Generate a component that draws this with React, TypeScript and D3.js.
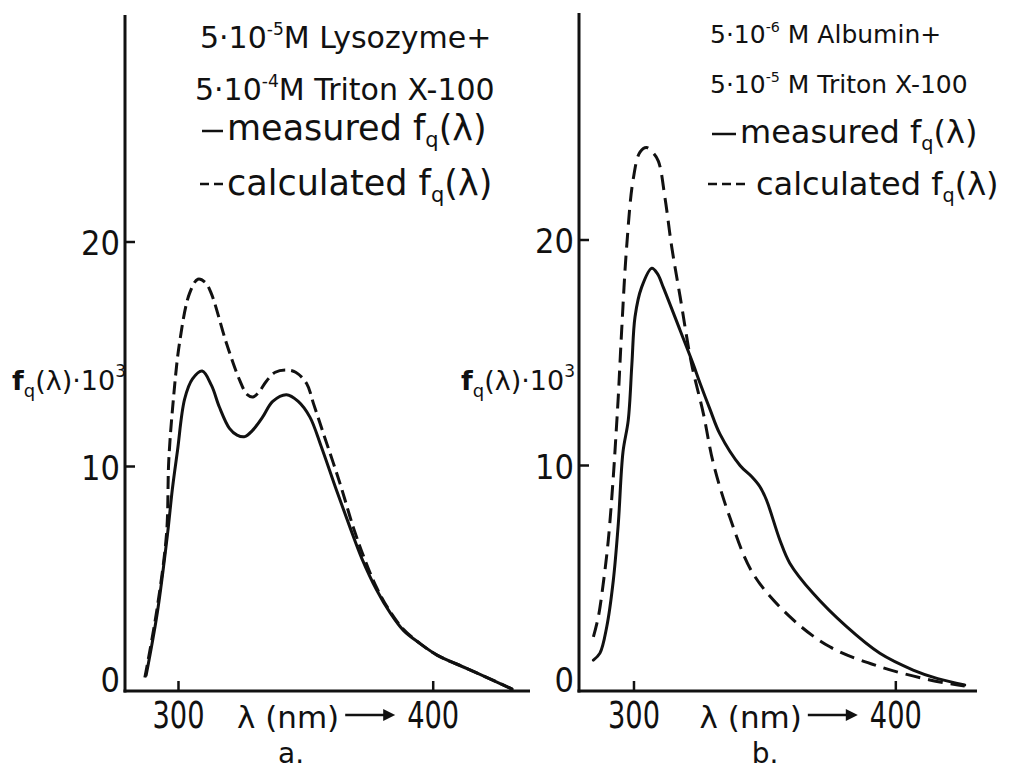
import React from 'react';
import * as d3 from 'd3';

const xTicks = [300, 400];
const yTicks = [0, 10, 20];

// [lambda (nm), fq * 10^3]
const lysozymeMeasured = [
  [287.3, 0.7], [291.7, 3.5], [295.7, 7.0], [297.6, 9.0], [299.6, 10.7], [302.4, 13.0],
  [305.5, 13.9], [309.3, 14.25], [313, 13.6], [316, 12.66], [320, 11.7], [323, 11.4],
  [326, 11.33], [329, 11.6], [333, 12.2], [337, 12.9], [342.4, 13.2], [347, 12.9],
  [351.6, 12.2], [356, 10.9], [362, 8.95], [367.3, 7.3], [372, 5.9], [377.8, 4.5],
  [383, 3.5], [388.3, 2.7], [395, 2.1], [401.5, 1.6], [413.3, 1.0], [425, 0.4], [431, 0.08]
];
const lysozymeCalculated = [
  [286.8, 0.6], [291.5, 3.6], [295.3, 7.0], [296.2, 10.3], [298, 13], [300.4, 15.5],
  [304.3, 17.7], [307.6, 18.34], [310.5, 18.2], [312.9, 17.7], [318.8, 15.5], [324, 13.85],
  [327, 13.2], [329.3, 13.1], [331.5, 13.3], [334.5, 13.8], [338, 14.2], [342.4, 14.3],
  [346, 14.2], [350.3, 13.7], [353, 12.8], [356.8, 11.5], [363.4, 9.25], [368.6, 7.3],
  [373, 5.9], [377.8, 4.6], [383, 3.55], [388.3, 2.75], [395, 2.1], [401.5, 1.6],
  [413.3, 1.0], [425, 0.4], [431, 0.08]
];
const albuminMeasured = [
  [284.5, 1.37], [287, 1.68], [289.6, 2.85], [292.1, 4.9], [294, 7.4], [295.8, 10.6],
  [297.8, 12.0], [299.2, 14.5], [300.4, 16.6], [302.9, 17.9], [306.8, 18.75], [309, 18.5],
  [311.2, 17.9], [317.6, 16.0], [322.6, 14.5], [325.2, 13.66], [329, 12.5], [332.8, 11.4],
  [340.5, 10.0], [345, 9.5], [348.1, 9.06], [350.6, 8.47], [355.7, 6.7], [359.5, 5.67],
  [368.4, 4.33], [381.2, 2.85], [393.9, 1.67], [406.6, 0.93], [416, 0.55], [426.3, 0.27]
];
const albuminCalculated = [
  [284.5, 2.4], [286.4, 3.3], [288.3, 4.8], [290.2, 6.7], [292.1, 9.5], [293.2, 11.5],
  [294, 13.05], [295.3, 16], [297.2, 19.7], [299.7, 22.7], [302.3, 23.9], [304.8, 24.1],
  [307, 23.9], [309.3, 23.5], [311.8, 21.9], [314.4, 19.7], [317.6, 17.5], [322, 14.5],
  [326.5, 12.3], [330.3, 10.1], [336.6, 7.7], [345.5, 5.2], [359.5, 3.3], [374.8, 1.96],
  [393.9, 1.08], [413, 0.49], [426.3, 0.22]
];

const lysozymeConc = [['5·10', '-5', 'M Lysozyme+'], ['5·10', '-4', 'M Triton X-100']];
const albuminConc = [['5·10', '-6', ' M Albumin+'], ['5·10', '-5', ' M Triton X-100']];

const FONT = '"DejaVu Sans", sans-serif';
const NARROW = '"Liberation Sans Narrow", "DejaVu Sans Condensed", sans-serif';
const INK = '#111';

const panels = [
  {
    key: 'a', xDomain: [279, 438], xRange: [125, 530], yRange: [691, 242], axisTop: 15,
    measured: lysozymeMeasured, calculated: lysozymeCalculated, dash: '13 6',
    conc: lysozymeConc, concSize: 30, legendSize: 35, legendX: 200, concY: [48, 100], mY: 140, cY: 195,
    mTextX: 227, cTextX: 227, cDash: [200, 224], ylabelX: 12, caption: 'a.', captionX: 291
  },
  {
    key: 'b', xDomain: [279, 431], xRange: [579, 977], yRange: [691, 240], axisTop: 13,
    measured: albuminMeasured, calculated: albuminCalculated, dash: '15 8',
    conc: albuminConc, concSize: 25, legendSize: 32, legendX: 710, concY: [43, 93], mY: 143, cY: 195,
    mTextX: 740, cTextX: 756, cDash: [708, 746], ylabelX: 461, caption: 'b.', captionX: 765
  }
];

function Panel({ p }) {
  const x = d3.scaleLinear().domain(p.xDomain).range(p.xRange);
  const y = d3.scaleLinear().domain([0, 20]).range(p.yRange);
  const line = d3.line().x(d => x(d[0])).y(d => y(d[1])).curve(d3.curveCatmullRom.alpha(0.5));
  const x0 = p.xRange[0];
  const base = y(0);
  const sub = p.legendSize * 0.6;
  return (
    <g>
      {/* axes */}
      <line x1={x0} x2={x0} y1={p.axisTop} y2={base + 1.5} stroke={INK} strokeWidth={3} />
      <line x1={x0 - 1.5} x2={p.xRange[1]} y1={base} y2={base} stroke={INK} strokeWidth={3} />
      {yTicks.filter(v => v > 0).map(v => (
        <line key={v} x1={x0} x2={x0 + 10} y1={y(v)} y2={y(v)} stroke={INK} strokeWidth={2.5} />
      ))}
      {yTicks.map(v => (
        <text key={v} x={x0 - 5} y={Math.min(y(v) + 13, base + 1)} textAnchor="end"
          fontFamily={NARROW} fontSize={34} fill={INK}>{v}</text>
      ))}
      {xTicks.map(v => (
        <g key={v}>
          <line x1={x(v)} x2={x(v)} y1={base} y2={base - 10} stroke={INK} strokeWidth={2.5} />
          <text x={x(v) - 26} y={base + 37} textLength={52} lengthAdjust="spacingAndGlyphs"
            fontFamily={NARROW} fontSize={37} fill={INK}>{v}</text>
        </g>
      ))}
      <text x={x(400) - 94} y={base + 37} textAnchor="end" fontFamily={FONT} fontSize={31} fill={INK}>λ (nm)</text>
      <line x1={x(400) - 88} x2={x(400) - 48} y1={base + 24} y2={base + 24} stroke={INK} strokeWidth={2.5} />
      <path d={`M${x(400) - 50},${base + 18}L${x(400) - 38},${base + 24}L${x(400) - 50},${base + 30}Z`} fill={INK} />
      <text x={p.captionX} y={base + 72} textAnchor="middle" fontFamily={FONT} fontSize={28} fill={INK}>{p.caption}</text>

      {/* y label */}
      <text x={p.ylabelX} y={390} fontFamily={FONT} fontSize={27} fill={INK}>
        <tspan fontWeight="bold">f</tspan>
        <tspan fontSize={18} dy={7}>q</tspan>
        <tspan dy={-7}>(λ)·10</tspan>
        <tspan fontSize={17} dy={-13}>3</tspan>
      </text>

      {/* curves */}
      <path d={line(p.measured)} fill="none" stroke={INK} strokeWidth={3} strokeLinejoin="round" strokeLinecap="round" />
      <path d={line(p.calculated)} fill="none" stroke={INK} strokeWidth={3} strokeDasharray={p.dash} />

      {/* legend */}
      {p.conc.map((c, i) => (
        <text key={i} x={p.legendX - (i === 1 && p.key === 'a' ? 5 : 0)} y={p.concY[i]}
          fontFamily={FONT} fontSize={p.concSize} fill={INK}>
          {c[0]}
          <tspan fontSize={p.concSize * 0.57} dy={-p.concSize * 0.45}>{c[1]}</tspan>
          <tspan dy={p.concSize * 0.45}>{c[2]}</tspan>
        </text>
      ))}
      <line x1={p.legendX + 2} x2={p.mTextX - 4} y1={p.mY - 9} y2={p.mY - 9} stroke={INK} strokeWidth={2.5} />
      <text x={p.mTextX} y={p.mY} fontFamily={FONT} fontSize={p.legendSize} fill={INK}>
        measured f<tspan fontSize={sub} dy={7}>q</tspan><tspan dy={-7}>(λ)</tspan>
      </text>
      <line x1={p.cDash[0]} x2={p.cDash[1]} y1={p.cY - 11} y2={p.cY - 11} stroke={INK} strokeWidth={2.5} strokeDasharray="9 5" />
      <text x={p.cTextX} y={p.cY} fontFamily={FONT} fontSize={p.legendSize} fill={INK}>
        calculated f<tspan fontSize={sub} dy={7}>q</tspan><tspan dy={-7}>(λ)</tspan>
      </text>
    </g>
  );
}

export default function App() {
  return (
    <div style={{ position: 'absolute', left: 0, top: 0 }}>
      <svg width={1016} height={769} style={{ display: 'block', background: '#fff' }}>
        <rect width={1016} height={769} fill="#fff" />
        {panels.map(p => <Panel key={p.key} p={p} />)}
      </svg>
    </div>
  );
}
